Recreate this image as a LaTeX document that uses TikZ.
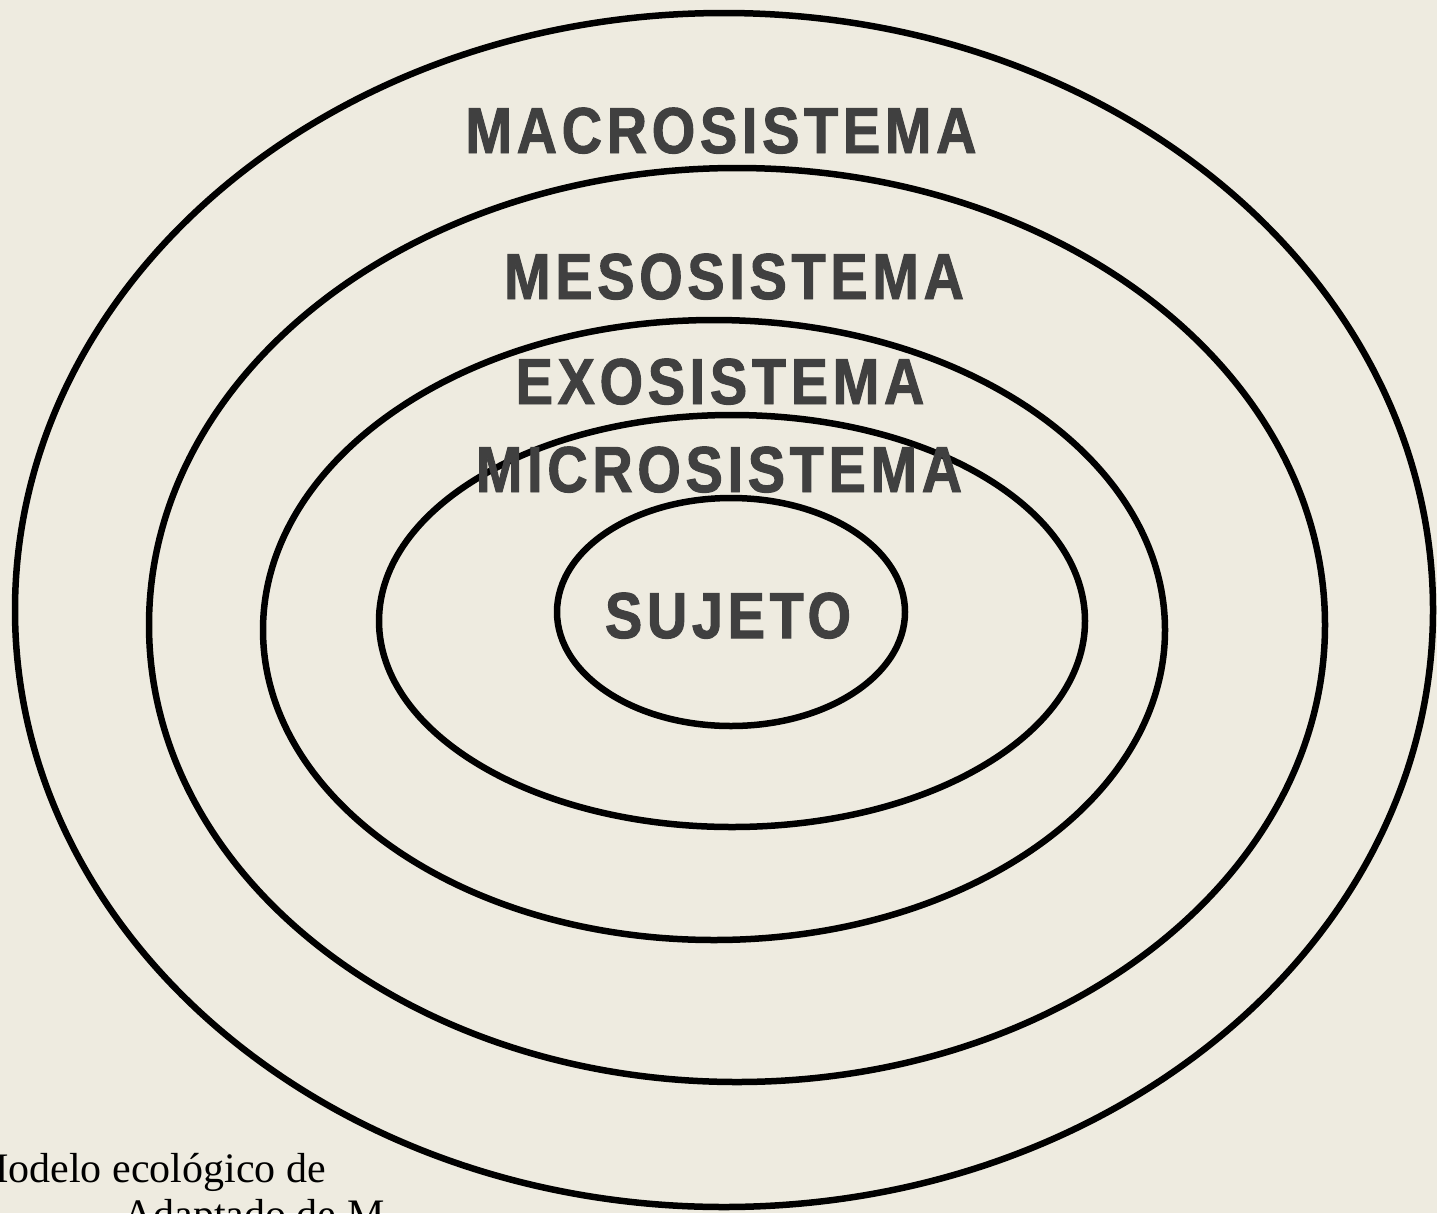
\documentclass[tikz,border=0pt]{standalone}
\usepackage{fontspec}
\setmainfont{Liberation Serif}
\newfontfamily\labelfont[FakeStretch=0.86,LetterSpace=7.2,FakeBold=1.5]{Liberation Sans Bold}
\usetikzlibrary{positioning}
\definecolor{bgcol}{HTML}{EEEBE0}
\definecolor{txtcol}{HTML}{404040}
\tikzset{
  ring/.style={draw=black, line width=6.5pt},
  syslabel/.style={anchor=base, inner sep=0pt, text=txtcol, font=\labelfont\fontsize{65}{65}\selectfont},
  caption/.style={anchor=base west, inner sep=0pt, text=black, font=\fontsize{42}{46}\selectfont}
}
\begin{document}
\begin{tikzpicture}[x=1pt,y=-1pt]
\useasboundingbox (0,0) rectangle (1437,1213);
\fill[bgcol] (0,0) rectangle (1437,1213);
\clip (0,0) rectangle (1437,1213);
% rings
\draw[ring] (724,610) ellipse [x radius=709pt, y radius=597pt];
\draw[ring] (737,625) ellipse [x radius=588pt, y radius=457pt];
\draw[ring] (714,630) ellipse [x radius=451pt, y radius=310pt];
\draw[ring] (732,621) ellipse [x radius=353pt, y radius=206pt];
\draw[ring] (731,612) ellipse [x radius=174pt, y radius=114pt];
% labels
\node[syslabel] (macro) at (721,153) {MACROSISTEMA};
\node[syslabel] (meso) at (734,299) {MESOSISTEMA};
\node[syslabel] (exo) at (720,404) {EXOSISTEMA};
\node[syslabel] (micro) at (719,492) {MICROSISTEMA};
\node[syslabel] (sujeto) at (728,638) {SUJETO};
% caption
\node[caption] (cap1) at (-29,1182) {Modelo ecológico de};
\node[caption] (cap2) at (123,1228) {Adaptado de M};
\end{tikzpicture}
\end{document}
